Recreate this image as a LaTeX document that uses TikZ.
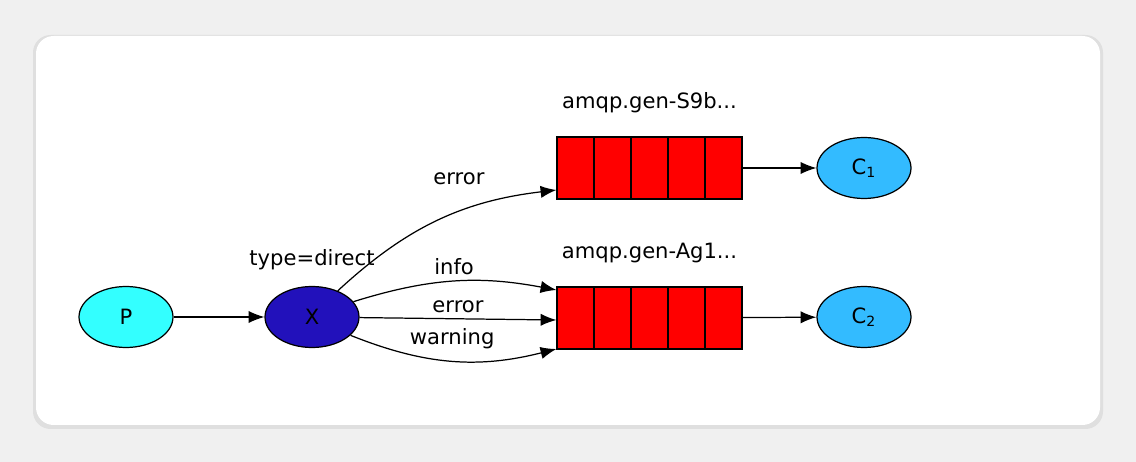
\documentclass[tikz,border=0pt]{standalone}
\usepackage{fontspec}
\setmainfont{DejaVu Sans}
\usetikzlibrary{positioning, shapes.geometric, arrows.meta}
\definecolor{pcol}{HTML}{33FFFF}
\definecolor{xcol}{HTML}{2211BB}
\definecolor{ccol}{HTML}{33BBFF}
\definecolor{qcol}{HTML}{FF0000}
\begin{document}
\begin{tikzpicture}[x=0.02cm, y=-0.02cm, font=\large, line width=0.7pt,
    ell/.style={ellipse, draw, minimum width=1.88cm, minimum height=1.22cm, inner sep=0pt},
    cell/.style={rectangle, draw, fill=qcol, minimum width=0.74cm, minimum height=1.24cm, inner sep=0pt},
    arr/.style={-{Latex[length=9pt,width=7pt]}}]
    % Fond
    \useasboundingbox (0,0) rectangle (1136,462);
    \fill[gray!12] (0,0) rectangle (1136,462);
    \fill[gray!25] (33,35) [rounded corners=10pt] rectangle (1103,429);
    \fill[white, rounded corners=10pt] (36,36) rectangle (1100,425);
    % Nœuds
    \node[ell, fill=xcol] (X) at (312,317) {X};
    \node[ell, fill=pcol] (P) at (126,317) {P};
    \node[above=0.2cm of X] {type=direct};
    \foreach \q/\y in {a/168, b/318} {
        \foreach \i in {0,...,4} {
            \node[cell] (\q\i) at (575.5+37*\i,\y) {};
        }
        \node[rectangle, minimum width=3.7cm, minimum height=1.24cm, inner sep=0pt] (\q) at (649.5,\y) {};
    }
    \node[above=0.35cm of a] {amqp.gen-S9b...};
    \node[above=0.35cm of b] {amqp.gen-Ag1...};
    \node[ell, fill=ccol] (C1) at (864,168) {C\textsubscript{1}};
    \node[ell, fill=ccol] (C2) at (864,317) {C\textsubscript{2}};
    % Flèches
    \draw[arr] (P) -- (X);
    \draw[arr] (a) -- (C1);
    \draw[arr] (b) -- (C2);
    \draw[arr] (X) to[bend left=18] node[above, pos=0.6, yshift=12pt] {error} (a.west |- 0,190);
    \draw[arr] (X) to[bend left=14] node[above, pos=0.5] {info} (b.west |- 0,290);
    \draw[arr] (X) to node[above, pos=0.5] {error} (b.west |- 0,320);
    \draw[arr] (X) to[bend right=18] node[above, pos=0.5, yshift=3pt] {warning} (b.west |- 0,349);
\end{tikzpicture}
\end{document}
